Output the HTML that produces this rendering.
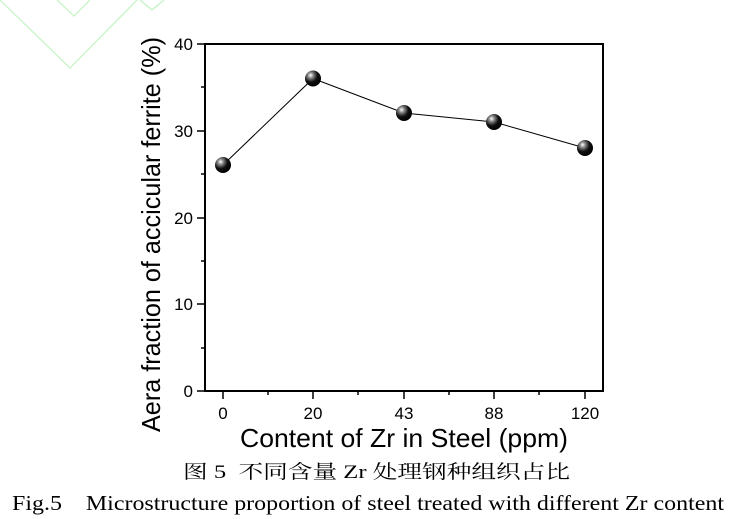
<!DOCTYPE html>
<html><head><meta charset="utf-8"><style>
body{margin:0;background:#fff;}
svg{display:block;}
</style></head><body>
<svg width="733" height="519" viewBox="0 0 733 519" xmlns="http://www.w3.org/2000/svg">
<defs>
<radialGradient id="g" cx="0.35" cy="0.3" r="0.7">
<stop offset="0" stop-color="#fff"/><stop offset="0.25" stop-color="#888"/><stop offset="0.6" stop-color="#111"/><stop offset="1" stop-color="#000"/>
</radialGradient>
</defs>
<g stroke="#ccf5cc" stroke-width="1.5" fill="none">
<polyline points="57,0 74,16 90,0"/>
<polyline points="0,0 70,68 137,0"/>
<polyline points="140,0 152,10 164,0"/>
</g>
<g stroke="#000" stroke-width="2" fill="none">
<rect x="205" y="44" width="398" height="347"/>
</g>
<g stroke="#000" stroke-width="1.5">
<line x1="197" y1="44" x2="205" y2="44"/><line x1="197" y1="131" x2="205" y2="131"/><line x1="197" y1="218" x2="205" y2="218"/><line x1="197" y1="304" x2="205" y2="304"/><line x1="197" y1="391" x2="205" y2="391"/>
<line x1="201" y1="87" x2="205" y2="87"/><line x1="201" y1="174" x2="205" y2="174"/><line x1="201" y1="261" x2="205" y2="261"/><line x1="201" y1="348" x2="205" y2="348"/>
<line x1="223" y1="391" x2="223" y2="399"/><line x1="313" y1="391" x2="313" y2="399"/><line x1="404" y1="391" x2="404" y2="399"/><line x1="494" y1="391" x2="494" y2="399"/><line x1="585" y1="391" x2="585" y2="399"/>
<line x1="268" y1="391" x2="268" y2="395"/><line x1="358" y1="391" x2="358" y2="395"/><line x1="449" y1="391" x2="449" y2="395"/><line x1="539" y1="391" x2="539" y2="395"/>
</g>
<g font-family="Liberation Sans, sans-serif" font-size="17" fill="#000">
<text x="193" y="50" text-anchor="end">40</text>
<text x="193" y="137" text-anchor="end">30</text>
<text x="193" y="224" text-anchor="end">20</text>
<text x="193" y="310" text-anchor="end">10</text>
<text x="193" y="397" text-anchor="end">0</text>
<text x="223" y="419" text-anchor="middle">0</text>
<text x="313" y="419" text-anchor="middle">20</text>
<text x="404" y="419" text-anchor="middle">43</text>
<text x="494" y="419" text-anchor="middle">88</text>
<text x="585" y="419" text-anchor="middle">120</text>
</g>
<text x="240" y="447" textLength="328" lengthAdjust="spacingAndGlyphs" font-family="Liberation Sans, sans-serif" font-size="26">Content of Zr in Steel (ppm)</text>
<text transform="translate(160,432) rotate(-90)" textLength="395" lengthAdjust="spacingAndGlyphs" font-family="Liberation Sans, sans-serif" font-size="26">Aera fraction of accicular ferrite (%)</text>
<polyline points="223,165 313,78.5 404,113 494,122 585,148" fill="none" stroke="#000" stroke-width="1"/>
<g fill="url(#g)">
<circle cx="223" cy="165" r="8"/><circle cx="313" cy="78.5" r="8"/><circle cx="404" cy="113" r="8"/><circle cx="494" cy="122" r="8"/><circle cx="585" cy="148" r="8"/>
</g>
<text x="183" y="478" textLength="387" lengthAdjust="spacingAndGlyphs" font-family="Liberation Serif, 'Noto Serif CJK SC', serif" font-size="19" xml:space="preserve">图 5  不同含量 Zr 处理钢种组织占比</text>
<text x="12" y="510" textLength="712" lengthAdjust="spacingAndGlyphs" font-family="Liberation Serif, serif" font-size="21" xml:space="preserve">Fig.5    Microstructure proportion of steel treated with different Zr content</text>
</svg>
</body></html>
